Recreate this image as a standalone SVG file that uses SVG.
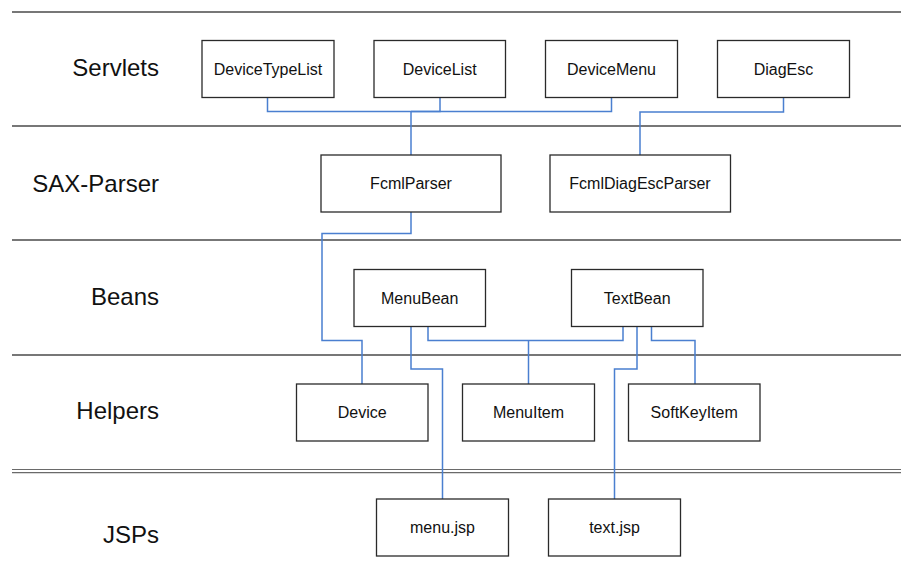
<svg xmlns="http://www.w3.org/2000/svg" width="901" height="585" viewBox="0 0 901 585">
<style>
.sep{stroke:#4a4a4a;stroke-width:1.3;fill:none}
.sep2{stroke:#6a6a6a;stroke-width:1.2;fill:none}
.box{fill:#fff;stroke:#2a2a2a;stroke-width:1.3}
.lbl{font-family:"Liberation Sans",Arial,sans-serif;font-size:16px;fill:#111;text-anchor:middle}
.layer{font-family:"Liberation Sans",Arial,sans-serif;font-size:24px;fill:#111;text-anchor:end}
.con{stroke:#4a7fd0;stroke-width:1.5;fill:none}
</style>
<rect width="901" height="585" fill="#fff"/>
<g id="layers">
<line class="sep" x1="12" y1="12" x2="901" y2="12"/>
<line class="sep" x1="12" y1="126" x2="901" y2="126"/>
<line class="sep" x1="12" y1="240" x2="901" y2="240"/>
<line class="sep" x1="12" y1="355" x2="901" y2="355"/>
<line class="sep2" x1="12" y1="469.5" x2="901" y2="469.5"/>
<line class="sep2" x1="12" y1="472.7" x2="901" y2="472.7"/>
<text class="layer" x="159" y="76">Servlets</text>
<text class="layer" x="159" y="191.5">SAX-Parser</text>
<text class="layer" x="159" y="305">Beans</text>
<text class="layer" x="159" y="419.3">Helpers</text>
<text class="layer" x="159" y="542.7">JSPs</text>
</g>
<g id="connectors">
<path class="con" d="M267.5 97 V111.5 H411"/>
<path class="con" d="M440 97 V111.5 H411"/>
<path class="con" d="M611.5 97 V111.5 H411"/>
<path class="con" d="M411 111.5 V155"/>
<path class="con" d="M783.5 97 V112 H640 V155"/>
<path class="con" d="M411 212 V233.5 H322 V340.5 H362 V384"/>
<path class="con" d="M411 326 V369 H442.5 V499"/>
<path class="con" d="M428 326 V340.5 H623 V326"/>
<path class="con" d="M528.5 340.5 V384"/>
<path class="con" d="M637 326 V369 H614.5 V499"/>
<path class="con" d="M651.5 326 V340.5 H695 V384"/>
</g>
<g id="DeviceTypeList"><rect class="box" x="202" y="40.5" width="132" height="57"/><text class="lbl" x="268" y="74.7">DeviceTypeList</text></g>
<g id="DeviceList"><rect class="box" x="374" y="40.5" width="131.5" height="57"/><text class="lbl" x="439.7" y="74.7">DeviceList</text></g>
<g id="DeviceMenu"><rect class="box" x="545.5" y="40.5" width="132" height="57"/><text class="lbl" x="611.5" y="74.7">DeviceMenu</text></g>
<g id="DiagEsc"><rect class="box" x="717.5" y="40.5" width="132" height="57"/><text class="lbl" x="783.5" y="74.7">DiagEsc</text></g>
<g id="FcmlParser"><rect class="box" x="321" y="155" width="180" height="57"/><text class="lbl" x="411" y="189">FcmlParser</text></g>
<g id="FcmlDiagEscParser"><rect class="box" x="550" y="155" width="180.5" height="57"/><text class="lbl" x="640" y="189">FcmlDiagEscParser</text></g>
<g id="MenuBean"><rect class="box" x="354" y="269.5" width="131.5" height="57"/><text class="lbl" x="419.7" y="303.5">MenuBean</text></g>
<g id="TextBean"><rect class="box" x="571.5" y="269.5" width="131.5" height="57"/><text class="lbl" x="637.2" y="303.5">TextBean</text></g>
<g id="Device"><rect class="box" x="296.5" y="384" width="131.5" height="57"/><text class="lbl" x="362.2" y="418">Device</text></g>
<g id="MenuItem"><rect class="box" x="462.5" y="384" width="132" height="57"/><text class="lbl" x="528.5" y="418">MenuItem</text></g>
<g id="SoftKeyItem"><rect class="box" x="628.5" y="384" width="131.5" height="57"/><text class="lbl" x="694.2" y="418">SoftKeyItem</text></g>
<g id="menu.jsp"><rect class="box" x="376.5" y="499" width="132" height="57"/><text class="lbl" x="442.5" y="533">menu.jsp</text></g>
<g id="text.jsp"><rect class="box" x="548.5" y="499" width="132" height="57"/><text class="lbl" x="614.5" y="533">text.jsp</text></g>
</svg>
